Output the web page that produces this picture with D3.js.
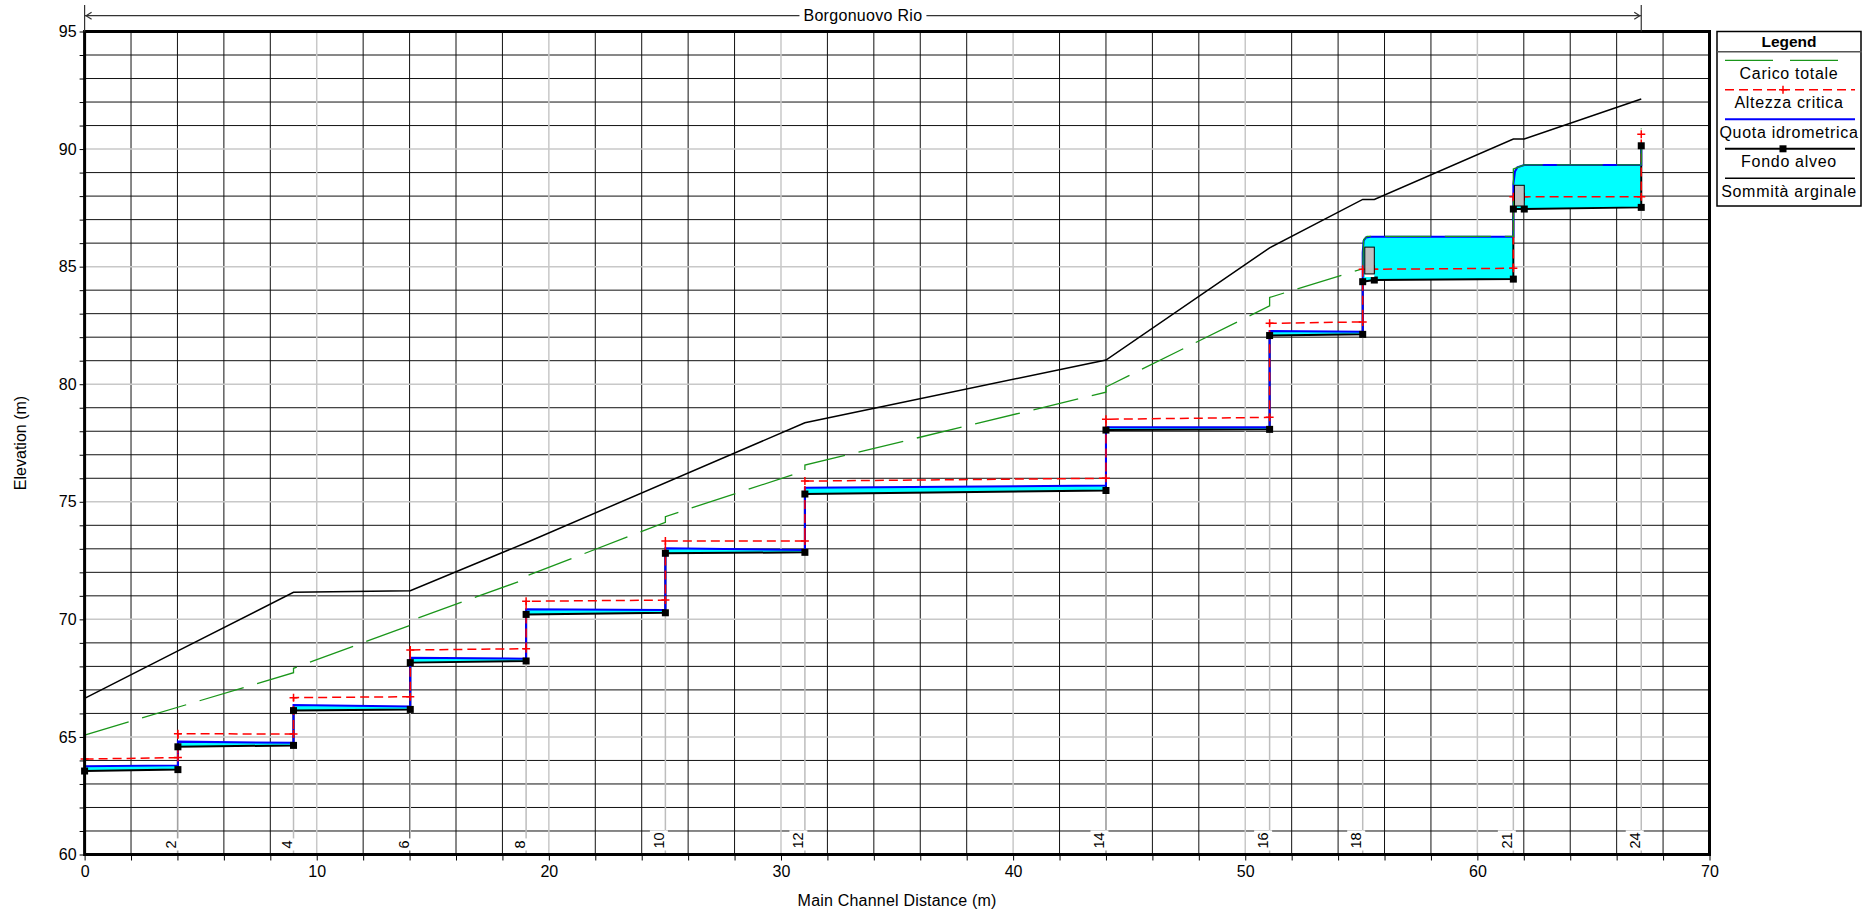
<!DOCTYPE html>
<html>
<head>
<meta charset="utf-8">
<script src="https://cdn.jsdelivr.net/npm/d3@7/dist/d3.min.js"></script>
<style>
    body { margin: 0; background: #fff; }
    svg text { font-family: "Liberation Sans", Arial, sans-serif; fill: #000; }
</style>
</head>
<body>
<svg id="chart" width="1867" height="912"></svg>
<script>

// river stations (main channel distance, m) and their labels
const stationX = [4.02, 9.0, 14.03, 19.02, 25.02, 31.03, 44.0, 51.05, 55.06, 61.55, 67.06];
const stationLabel = ["2", "4", "6", "8", "10", "12", "14", "16", "18", "21", "24"];

// fondo alveo, one array per reach [distance, elevation]
const reachBed = [
    [[0, 63.55], [4.02, 63.61]],
    [[4.02, 64.58], [9.0, 64.64]],
    [[9.0, 66.12], [14.03, 66.17]],
    [[14.03, 68.16], [19.02, 68.23]],
    [[19.02, 70.21], [25.02, 70.28]],
    [[25.02, 72.81], [31.03, 72.85]],
    [[31.03, 75.33], [44.0, 75.48]],
    [[44.0, 78.05], [51.05, 78.08]],
    [[51.05, 82.07], [55.06, 82.12]],
    [[55.06, 84.36], [55.56, 84.43], [61.55, 84.47]],
    [[61.55, 87.45], [62.02, 87.45], [67.06, 87.52]]
];
const bedTop = [67.06, 90.14];

// quota idrometrica
const reachWs = [
    [[0, 63.75], [4.02, 63.79]],
    [[4.02, 64.80], [9.0, 64.75]],
    [[9.0, 66.36], [14.03, 66.29]],
    [[14.03, 68.37], [19.02, 68.33]],
    [[19.02, 70.43], [25.02, 70.40]],
    [[25.02, 73.02], [31.03, 72.95]],
    [[31.03, 75.60], [44.0, 75.69]],
    [[44.0, 78.17], [51.05, 78.17]],
    [[51.05, 82.26], [55.06, 82.23]],
    [[55.06, 85.6], [55.1, 86.1], [55.2, 86.24], [55.4, 86.27], [61.55, 86.27]],
    [[61.55, 88.5], [61.62, 89.05], [61.72, 89.22], [62.02, 89.32], [67.06, 89.32]]
];
const wsTop = [67.06, 90.2];

// altezza critica
const reachCrit = [
    [[0, 64.06], [4.02, 64.12]],
    [[4.02, 65.14], [9.0, 65.12]],
    [[9.0, 66.67], [14.03, 66.71]],
    [[14.03, 68.70], [19.02, 68.75]],
    [[19.02, 70.77], [25.02, 70.82]],
    [[25.02, 73.33], [31.03, 73.33]],
    [[31.03, 75.88], [44.0, 76.0]],
    [[44.0, 78.51], [51.05, 78.59]],
    [[51.05, 82.59], [55.06, 82.65]],
    [[55.06, 84.89], [55.56, 84.89], [61.55, 84.93]],
    [[61.55, 87.97], [62.02, 87.97], [67.06, 87.97]]
];
const critTop = [67.06, 90.63];

// carico totale
const egPts = [
    [0, 65.08], [9.0, 67.73], [9.0, 67.92], [14.03, 69.75], [14.03, 69.94],
    [19.02, 71.72], [19.02, 71.84], [25.02, 74.13], [25.02, 74.37],
    [31.03, 76.32], [31.03, 76.56], [44.0, 79.66], [44.0, 79.88],
    [51.05, 83.33], [51.05, 83.69], [55.06, 84.91], [55.1, 86.15], [55.25, 86.29],
    [61.55, 86.29], [61.55, 89.15], [62.02, 89.33], [67.06, 89.33], [67.06, 90.88]
];

// sommità arginale
const bankPts = [
    [0, 66.64], [4.02, 68.66], [9.0, 71.15], [14.03, 71.22], [19.02, 73.26],
    [31.03, 78.36], [44.0, 81.03], [51.05, 85.8], [55.06, 87.86], [55.56, 87.86],
    [61.55, 90.43], [62.02, 90.43], [67.06, 92.13]
];

// paratoie: [x0, x1, bed, bottom, top]
const gates = [
    [55.15, 55.56, 84.43, 84.69, 85.83],
    [61.6, 62.02, 87.45, 87.58, 88.46]
];

const reachName = "Borgonuovo Rio";
const legendNames = ["Carico totale", "Altezza critica", "Quota idrometrica", "Fondo alveo", "Sommità arginale"];


const svg = d3.select("#chart");

const x = d3.scaleLinear().domain([0, 70]).range([84.6, 1709.5]);
const y = d3.scaleLinear().domain([60, 95]).range([854.5, 31.5]);
const line = d3.line().x(function(d){ return x(d[0]); }).y(function(d){ return y(d[1]); });

/* griglia */
const grid = svg.append("g");
d3.range(2, 70, 2).filter(function(d){ return d % 10 !== 0; }).forEach(function(d){
    grid.append("line").attr("x1", x(d)).attr("x2", x(d)).attr("y1", y(60)).attr("y2", y(95))
        .attr("stroke", "#111").attr("stroke-width", 1);
});
d3.range(61, 95, 1).filter(function(d){ return d % 5 !== 0; }).forEach(function(d){
    grid.append("line").attr("x1", x(0)).attr("x2", x(70)).attr("y1", y(d)).attr("y2", y(d))
        .attr("stroke", "#111").attr("stroke-width", 1);
});
d3.range(10, 70, 10).forEach(function(d){
    grid.append("line").attr("x1", x(d)).attr("x2", x(d)).attr("y1", y(60)).attr("y2", y(95))
        .attr("stroke", "#c8c8c8").attr("stroke-width", 1.5);
});
d3.range(65, 95, 5).forEach(function(d){
    grid.append("line").attr("x1", x(0)).attr("x2", x(70)).attr("y1", y(d)).attr("y2", y(d))
        .attr("stroke", "#c8c8c8").attr("stroke-width", 1.5);
});

/* sezioni */
const allBed = reachBed.flat().concat([bedTop]);
const secs = svg.append("g");
stationX.forEach(function(s, i){
    const lower = reachBed.find(function(r){ return r[r.length - 1][0] === s; });
    const zb = lower[lower.length - 1][1];
    secs.append("line").attr("x1", x(s)).attr("x2", x(s)).attr("y1", y(60)).attr("y2", y(zb))
        .attr("stroke", "#bdbdbd").attr("stroke-width", 1.5);

    const g = secs.append("g").attr("transform", "translate(" + x(s) + "," + y(60) + ") rotate(-90)");
    const bg = g.append("rect").attr("fill", "#fff");
    const t = g.append("text").attr("x", 6).attr("y", -1.5)
        .attr("font-size", "14.5px").text(stationLabel[i]);
    const bb = t.node().getBBox();
    bg.attr("x", bb.x - 2).attr("y", bb.y - 1).attr("width", bb.width + 4).attr("height", bb.height + 2);
});

/* acqua */
reachWs.forEach(function(ws, i){
    const poly = ws.concat(reachBed[i].slice().reverse());
    svg.append("path").attr("d", line(poly) + "Z").attr("fill", "#00ffff").attr("stroke", "none");
});

/* linee */
svg.append("path").datum(bankPts).attr("d", line)
    .attr("fill", "none").attr("stroke", "#000").attr("stroke-width", 1.5);

svg.append("path").datum(allBed).attr("d", line)
    .attr("fill", "none").attr("stroke", "#000").attr("stroke-width", 2);

svg.append("path").datum(reachWs.flat().concat([wsTop])).attr("d", line)
    .attr("fill", "none").attr("stroke", "#0000ff").attr("stroke-width", 2);

const allCrit = reachCrit.flat().concat([critTop]);
svg.append("path").datum(allCrit).attr("d", line)
    .attr("fill", "none").attr("stroke", "#ff0000").attr("stroke-width", 1.5)
    .attr("stroke-dasharray", "9,5");

svg.append("path").datum(egPts).attr("d", line)
    .attr("fill", "none").attr("stroke", "#1a961a").attr("stroke-width", 1.3)
    .attr("stroke-dasharray", "46,14");

svg.append("g").selectAll("path")
    .data(allCrit)
    .enter()
    .append("path")
    .attr("d", function(d){
        const px = x(d[0]), py = y(d[1]);
        return "M" + (px - 4) + "," + py + "H" + (px + 4) + "M" + px + "," + (py - 4) + "V" + (py + 4);
    })
    .attr("stroke", "#ff0000").attr("stroke-width", 1.5);

svg.append("g").selectAll("rect")
    .data(allBed)
    .enter()
    .append("rect")
    .attr("x", function(d){ return x(d[0]) - 3.5; })
    .attr("y", function(d){ return y(d[1]) - 3.5; })
    .attr("width", 7).attr("height", 7)
    .attr("fill", "#000");

/* paratoie */
gates.forEach(function(g){
    svg.append("rect").attr("x", x(g[0])).attr("y", y(g[3])).attr("width", x(g[1]) - x(g[0]))
        .attr("height", y(g[2]) - y(g[3]) - 3).attr("fill", "#fff");
    svg.append("rect").attr("x", x(g[0])).attr("y", y(g[4])).attr("width", x(g[1]) - x(g[0]))
        .attr("height", y(g[3]) - y(g[4])).attr("fill", "#c0c0c0").attr("stroke", "#000").attr("stroke-width", 1);
});

/* cornice e assi */
svg.append("rect").attr("x", x(0)).attr("y", y(95)).attr("width", x(70) - x(0)).attr("height", y(60) - y(95))
    .attr("fill", "none").attr("stroke", "#000").attr("stroke-width", 3);

const yAxis = svg.append("g").attr("transform", "translate(" + x(0) + ",0)")
    .call(d3.axisLeft(y).tickValues(d3.range(60, 96, 1)).tickSize(5).tickPadding(3)
        .tickFormat(function(d){ return d % 5 === 0 ? d : ""; }));
const xAxis = svg.append("g").attr("transform", "translate(0," + y(60) + ")")
    .call(d3.axisBottom(x).tickValues(d3.range(0, 71, 2)).tickSize(6).tickPadding(5)
        .tickFormat(function(d){ return d % 10 === 0 ? d : ""; }));
[yAxis, xAxis].forEach(function(a){
    a.select(".domain").remove();
    a.selectAll("text").attr("font-size", "16px").attr("font-family", "Liberation Sans, Arial, sans-serif");
});

svg.append("text").attr("transform", "translate(20," + (y(60) + y(95)) / 2 + ") rotate(-90)")
    .attr("text-anchor", "middle").attr("dy", "0.35em").attr("font-size", "16px")
    .text("Elevation (m)");
svg.append("text").attr("x", (x(0) + x(70)) / 2).attr("y", 906)
    .attr("text-anchor", "middle").attr("font-size", "16px").attr("letter-spacing", "0.2px")
    .text("Main Channel Distance (m)");

/* titolo del tratto */
const xa = x(0), xb = x(stationX[stationX.length - 1]), ay = 15.7;
const ttl = svg.append("g").attr("stroke", "#333").attr("stroke-width", 1.2).attr("fill", "none");
ttl.append("line").attr("x1", xa).attr("x2", xb).attr("y1", ay).attr("y2", ay);
ttl.append("line").attr("x1", xa).attr("x2", xa).attr("y1", 5).attr("y2", y(95));
ttl.append("line").attr("x1", xb).attr("x2", xb).attr("y1", 5).attr("y2", y(95));
ttl.append("path").attr("d", "M" + (xa + 7) + "," + (ay - 3.5) + "L" + (xa + 1.5) + "," + ay + "L" + (xa + 7) + "," + (ay + 3.5));
ttl.append("path").attr("d", "M" + (xb - 7) + "," + (ay - 3.5) + "L" + (xb - 1.5) + "," + ay + "L" + (xb - 7) + "," + (ay + 3.5));
const tbg = svg.append("rect").attr("fill", "#fff");
const tt = svg.append("text").attr("x", (xa + xb) / 2).attr("y", ay + 5.6)
    .attr("text-anchor", "middle").attr("font-size", "16px").attr("letter-spacing", "0.3px").text(reachName);
const tb = tt.node().getBBox();
tbg.attr("x", tb.x - 4).attr("y", tb.y).attr("width", tb.width + 8).attr("height", tb.height);

/* legenda */
const lg = svg.append("g");
const lgX = 1717, lgW = 144, lgC = lgX + lgW / 2;
lg.append("rect").attr("x", lgX).attr("y", 31.5).attr("width", lgW).attr("height", 174.5)
    .attr("fill", "#fff").attr("stroke", "#000").attr("stroke-width", 1.5);
lg.append("text").attr("x", lgC).attr("y", 46.5).attr("text-anchor", "middle")
    .attr("font-size", "15.5px").attr("font-weight", "bold").text("Legend");
lg.append("line").attr("x1", lgX).attr("x2", lgX + lgW + 1).attr("y1", 51.7).attr("y2", 51.7)
    .attr("stroke", "#555").attr("stroke-width", 1.5);

const legStyle = [
    { stroke: "#1a961a", dash: "48,17", w: 1.3, end: 1838 },
    { stroke: "#ff0000", dash: "9,5", w: 1.5, end: 1855 },
    { stroke: "#0000ff", dash: null, w: 2, end: 1855 },
    { stroke: "#000", dash: null, w: 2, end: 1855 },
    { stroke: "#000", dash: null, w: 1.5, end: 1855 }
];
legendNames.forEach(function(name, i){
    const ly = 60.3 + i * 29.5;
    const st = legStyle[i];
    lg.append("line").attr("x1", 1725).attr("x2", st.end).attr("y1", ly).attr("y2", ly)
        .attr("stroke", st.stroke).attr("stroke-width", st.w).attr("stroke-dasharray", st.dash);
    if (i === 1) {
        lg.append("path").attr("d", "M1779," + ly + "H1787M1783," + (ly - 4) + "V" + (ly + 4))
            .attr("stroke", "#ff0000").attr("stroke-width", 1.5);
    }
    if (i === 3) {
        lg.append("rect").attr("x", 1779.5).attr("y", ly - 3.5).attr("width", 7).attr("height", 7).attr("fill", "#000");
    }
    lg.append("text").attr("x", lgC).attr("y", ly + 18.6).attr("text-anchor", "middle")
        .attr("font-size", "16px").attr("letter-spacing", "0.7px").text(name);
});

</script>
</body>
</html>
